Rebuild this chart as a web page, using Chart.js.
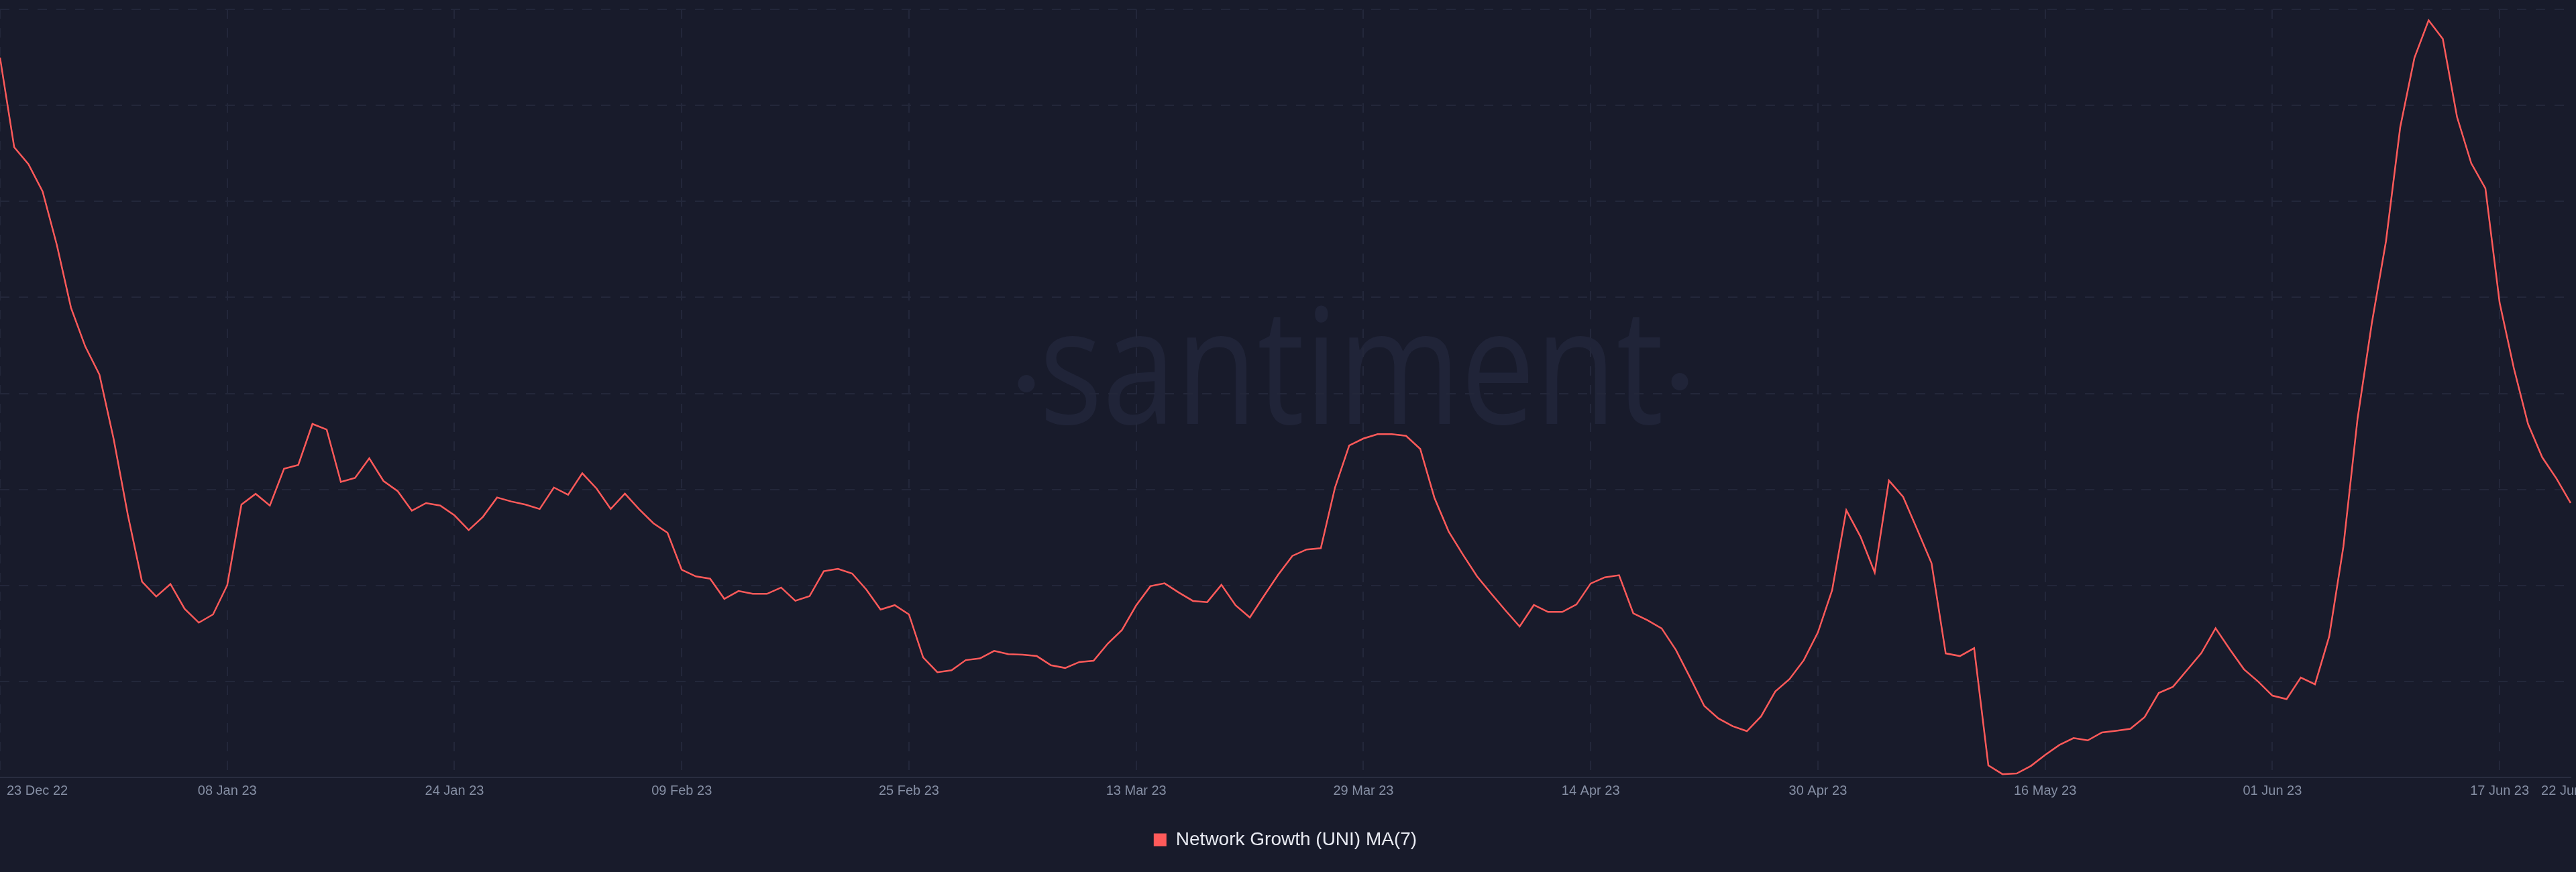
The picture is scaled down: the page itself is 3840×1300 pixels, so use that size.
<!DOCTYPE html>
<html>
<head>
<meta charset="utf-8">
<title>Network Growth (UNI) MA(7)</title>
<script src="https://cdn.jsdelivr.net/npm/chart.js@4.4.0/dist/chart.umd.min.js"></script>
<style>
  html, body { margin: 0; padding: 0; background: #181b2b; }
  #wrap { width: 3840px; height: 1300px; position: relative; }
</style>
</head>
<body>
<div id="wrap"><canvas id="growthChart"></canvas></div>
<script>
const startDate = '2022-12-23';
const dayCount = 182;

const tickLabels = [
    '23 Dec 22', '08 Jan 23', '24 Jan 23', '09 Feb 23', '25 Feb 23', '13 Mar 23', '29 Mar 23',
    '14 Apr 23', '30 Apr 23', '16 May 23', '01 Jun 23', '17 Jun 23', '22 Jun 23'
];

// Network Growth (UNI), 7 day moving average, one value per day
const networkGrowth = [
    524.9, 478.2, 469.4, 455.2, 427.4, 394.6, 374.5, 359.8, 326.3, 286.8,
    252.0, 244.2, 250.7, 237.8, 230.6, 234.9, 250.1, 292.1, 297.7, 291.6,
    310.8, 312.7, 334.1, 331.2, 303.9, 306.0, 316.2, 304.4, 299.1, 288.9,
    292.9, 291.6, 286.5, 278.8, 285.7, 295.8, 293.7, 292.1, 289.8, 301.0,
    297.2, 308.4, 300.5, 289.8, 297.8, 289.7, 282.4, 277.4, 258.2, 254.7,
    253.5, 243.0, 247.1, 245.6, 245.6, 248.9, 242.0, 244.4, 257.4, 258.6,
    256.2, 247.8, 237.4, 239.7, 234.9, 212.5, 204.8, 205.8, 211.1, 212.0,
    215.9, 214.2, 213.9, 213.2, 208.4, 207.0, 210.1, 210.8, 219.7, 226.8,
    239.6, 249.6, 251.1, 246.3, 241.9, 241.3, 250.3, 239.6, 233.3, 244.6,
    255.6, 265.4, 268.7, 269.4, 301.0, 322.9, 326.5, 328.8, 328.8, 327.9,
    321.1, 295.6, 278.1, 266.1, 254.7, 245.7, 237.0, 228.6, 239.8, 236.2,
    236.2, 240.1, 251.0, 254.2, 255.3, 235.5, 231.9, 227.6, 216.4, 202.0,
    187.2, 180.7, 176.7, 174.1, 181.8, 194.8, 201.2, 211.0, 225.5, 247.5,
    289.2, 275.4, 256.7, 304.6, 296.1, 279.0, 261.6, 214.6, 213.2, 217.3,
    156.3, 151.7, 152.1, 156.0, 161.7, 166.9, 170.5, 169.3, 173.4, 174.3,
    175.3, 181.4, 194.0, 197.2, 206.0, 214.8, 227.7, 216.7, 206.3, 199.9,
    192.6, 190.8, 202.0, 198.5, 223.4, 270.2, 337.0, 386.5, 429.3, 488.6,
    524.7, 544.3, 534.6, 494.0, 469.9, 456.8, 397.2, 363.2, 334.1, 316.7,
    305.7, 292.9
];

const months = ['Jan', 'Feb', 'Mar', 'Apr', 'May', 'Jun', 'Jul', 'Aug', 'Sep', 'Oct', 'Nov', 'Dec'];

function formatDay(d) {
    const dd = String(d.getUTCDate()).padStart(2, '0');
    const yy = String(d.getUTCFullYear()).slice(2);
    return `${dd} ${months[d.getUTCMonth()]} ${yy}`;
}

const categories = [];
for (let i = 0; i < dayCount; i++) {
    const d = new Date(startDate + 'T00:00:00Z');
    d.setUTCDate(d.getUTCDate() + i);
    categories.push(formatDay(d));
}

const tickIndexes = tickLabels.map(l => categories.indexOf(l));
// the last label sits on the right edge and gets no grid line
const gridIndexes = tickIndexes.slice(0, -1);

const BG = '#181b2b';
const RED = '#ff5a5a';
const GRID = '#23273a';

const backgroundAndWatermark = {
    id: 'backgroundAndWatermark',
    beforeDraw(chart) {
        const ctx = chart.ctx;
        ctx.save();
        ctx.fillStyle = BG;
        ctx.fillRect(0, 0, chart.width, chart.height);

        ctx.fillStyle = '#202438';
        ctx.font = '241px "Open Sans"';
        ctx.textAlign = 'left';
        ctx.textBaseline = 'alphabetic';
        const m = ctx.measureText('santiment');
        const w = m.actualBoundingBoxLeft + m.actualBoundingBoxRight;
        ctx.translate(1559, 632);
        ctx.scale(917 / w, 1);
        ctx.fillText('santiment', m.actualBoundingBoxLeft, 0);
        ctx.restore();

        ctx.save();
        ctx.fillStyle = '#202438';
        ctx.beginPath();
        ctx.ellipse(1530, 572, 12.5, 13, 0, 0, Math.PI * 2);
        ctx.fill();
        ctx.beginPath();
        ctx.ellipse(2504, 569, 12.5, 13, 0, 0, Math.PI * 2);
        ctx.fill();
        ctx.restore();
    }
};

const dateLabels = {
    id: 'dateLabels',
    afterDraw(chart) {
        const ctx = chart.ctx;
        const xScale = chart.scales.x;
        const y = chart.chartArea.bottom + 20;
        ctx.save();
        ctx.font = '20px "Liberation Sans", Arial, sans-serif';
        ctx.fillStyle = '#858ea3';
        ctx.textBaseline = 'middle';
        tickIndexes.forEach((idx, i) => {
            const x = xScale.getPixelForValue(idx);
            if (i === 0) {
                ctx.textAlign = 'left';
                ctx.fillText(tickLabels[i], x + 10, y);
            } else {
                ctx.textAlign = 'center';
                ctx.fillText(tickLabels[i], x, y);
            }
        });
        ctx.restore();
    }
};

const ctx = document.getElementById('growthChart').getContext('2d');
const chart = new Chart(ctx, {
    type: 'line',
    data: {
        labels: categories,
        datasets: [{
            label: 'Network Growth (UNI) MA(7)',
            data: networkGrowth,
            borderColor: RED,
            backgroundColor: RED,
            borderWidth: 2.5,
            pointRadius: 0,
            tension: 0,
            fill: false
        }]
    },
    options: {
        responsive: true,
        maintainAspectRatio: false,
        animation: false,
        layout: {
            padding: { top: 14, right: 8, left: 0, bottom: 24 }
        },
        scales: {
            x: {
                offset: false,
                ticks: { display: false },
                afterFit: scale => { scale.height = 69; },
                grid: {
                    drawTicks: false,
                    lineWidth: 2,
                    color: c => gridIndexes.includes(c.index) ? GRID : 'transparent'
                },
                border: { display: true, color: '#292d40', width: 2, dash: [14, 14] }
            },
            y: {
                min: 150,
                max: 550,
                ticks: { display: false, stepSize: 50 },
                grid: {
                    drawTicks: false,
                    lineWidth: 2,
                    color: c => c.tick && c.tick.value === 150 ? 'transparent' : GRID
                },
                border: { display: false, dash: [14, 14] }
            }
        },
        plugins: {
            legend: {
                position: 'bottom',
                labels: {
                    color: '#e8eaf2',
                    boxWidth: 19,
                    boxHeight: 19,
                    font: { size: 28, family: '"Liberation Sans", Arial, sans-serif' },
                    generateLabels: c => Chart.defaults.plugins.legend.labels.generateLabels(c)
                        .map(l => ({ ...l, lineWidth: 0 }))
                }
            },
            tooltip: { enabled: false }
        }
    },
    plugins: [backgroundAndWatermark, dateLabels]
});
</script>
</body>
</html>
